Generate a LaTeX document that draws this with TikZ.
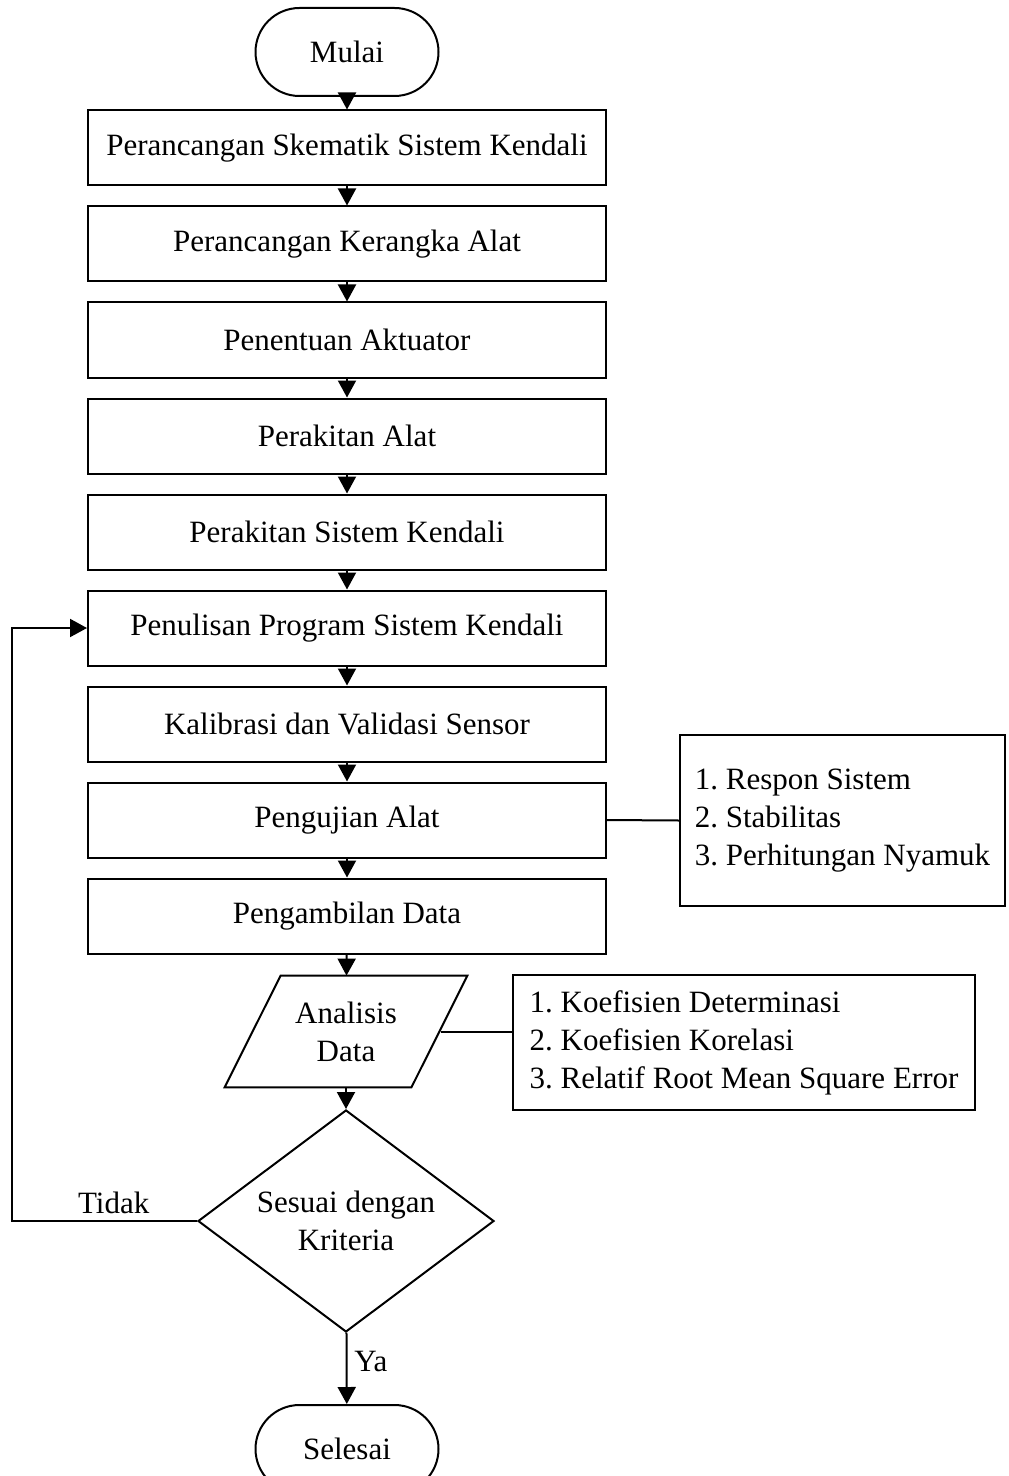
\documentclass[tikz,border=0pt]{standalone}
\usepackage{fontspec}
\setmainfont{Liberation Serif}
\usetikzlibrary{shapes.geometric,arrows.meta}

\begin{document}
\begin{tikzpicture}[x=0.5pt,y=-0.5pt,
	font=\fontsize{15.5}{19}\selectfont\frenchspacing,
	proc/.style={draw,line width=1pt,minimum width=259pt,minimum height=37.5pt,inner sep=0pt},
	term/.style={draw,line width=1pt,rounded corners=22pt,minimum width=91.5pt,minimum height=44pt},
	io/.style={minimum width=121pt,minimum height=55.5pt,inner sep=0pt,align=center},
	decide/.style={draw,line width=1pt,diamond,aspect=1.33,minimum width=148pt,minimum height=111pt,inner sep=0pt,align=center},
	note/.style={draw,line width=1pt,align=left,inner sep=0pt},
	flow/.style={line width=1pt,-{Triangle[width=9pt,length=8.5pt]}}]
		\clip (0,0) rectangle (1008,1476);
		\node[term] (st) at (347,52) {Mulai};
		\node[proc] (p1) at (347,148) {Perancangan Skematik Sistem Kendali};
		\node[proc] (p2) at (347,244) {Perancangan Kerangka Alat};
		\node[proc] (p3) at (347,340) {Penentuan Aktuator};
		\node[proc] (p4) at (347,436) {Perakitan Alat};
		\node[proc] (p5) at (347,532) {Perakitan Sistem Kendali};
		\node[proc] (p6) at (347,628) {Penulisan Program Sistem Kendali};
		\node[proc] (p7) at (347,724) {Kalibrasi dan Validasi Sensor};
		\node[proc] (p8) at (347,820) {Pengujian Alat};
		\node[proc] (p9) at (347,916) {Pengambilan Data};
		\node[io] (an) at (346,1031.5) {Analisis\\Data};
		\draw[line width=1pt] ([xshift=28pt]an.north west) -- (an.north east)
			-- ([xshift=-28pt]an.south east) -- (an.south west) -- cycle;
		\node[decide] (dec) at (346,1221) {Sesuai dengan\\Kriteria};
		\node[term] (end) at (347,1449) {Selesai};
		\node[note,minimum width=162.5pt,minimum height=85.5pt] (uji) at (842.5,820.5)
			{1. Respon Sistem\\2. Stabilitas\\3. Perhitungan Nyamuk};
		\node[note,minimum width=231pt,minimum height=67.5pt] (stat) at (744,1042.5)
			{1. Koefisien Determinasi\\2. Koefisien Korelasi\\3. Relatif Root Mean Square Error};
		\coordinate (back) at (12,1221);
		\draw[flow] (st) -- (p1);
		\draw[flow] (p1) -- (p2);
		\draw[flow] (p2) -- (p3);
		\draw[flow] (p3) -- (p4);
		\draw[flow] (p4) -- (p5);
		\draw[flow] (p5) -- (p6);
		\draw[flow] (p6) -- (p7);
		\draw[flow] (p7) -- (p8);
		\draw[flow] (p8) -- (p9);
		\draw[flow] (p9) -- (an);
		\draw[flow] (an) -- (dec);
		\draw[flow] (dec) -- node[right,pos=.4] {Ya} (end);
		\draw[flow] (dec.west) -- node[above,pos=.45] {Tidak} (back) |- (p6.west);
		\draw[line width=1pt] (p8.east) -- (uji.west);
		\draw[line width=1pt] ([xshift=-13pt]an.east) -- (an.east -| stat.west);
	\end{tikzpicture}
\end{document}
